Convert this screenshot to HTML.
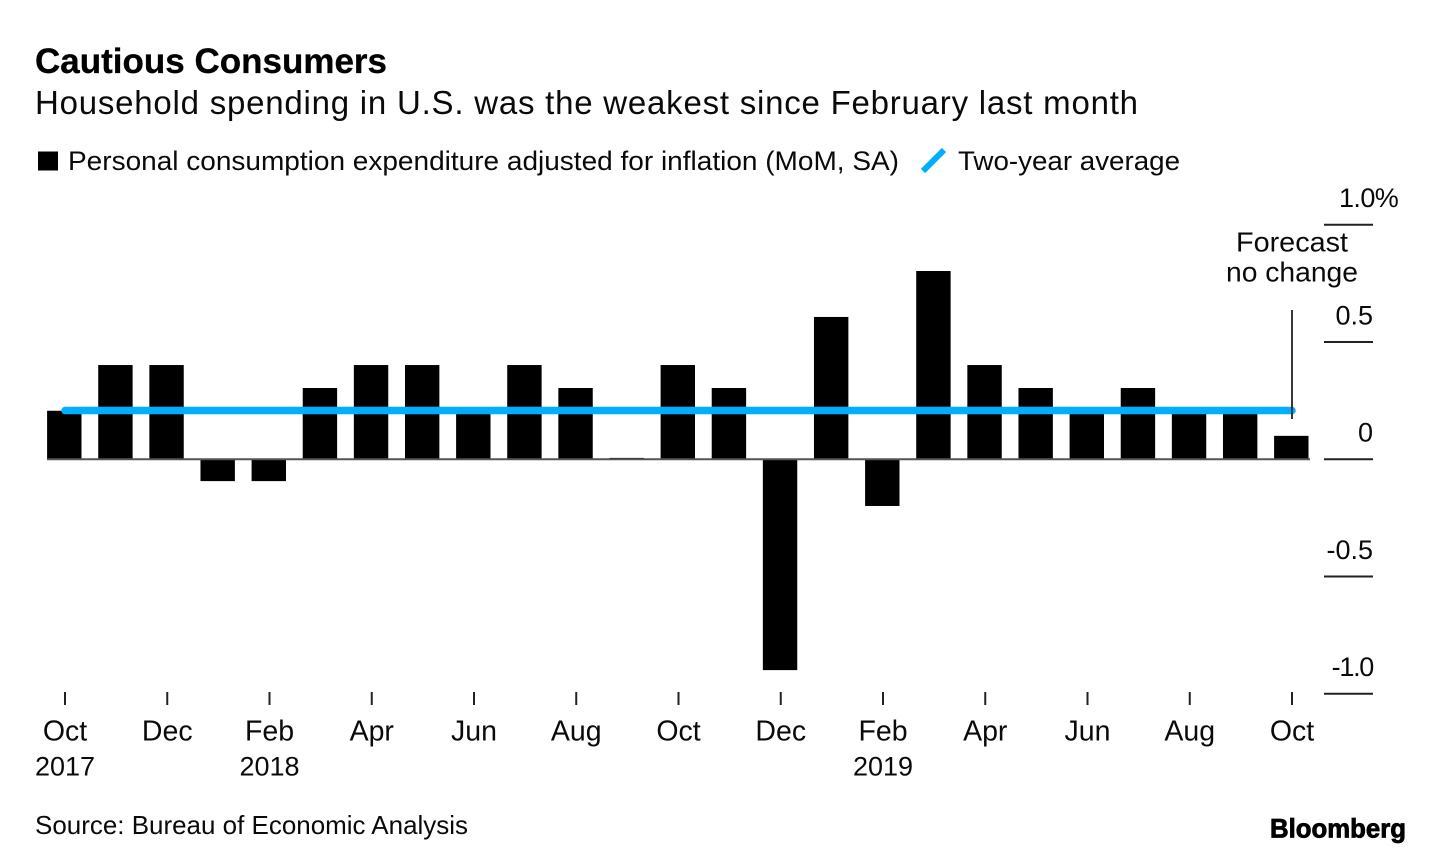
<!DOCTYPE html>
<html lang="en">
<head>
<meta charset="utf-8">
<title>Cautious Consumers</title>
<style>
html,body{margin:0;padding:0;background:#fff;}
body{width:1433px;height:854px;overflow:hidden;}
svg{display:block;}
text{font-family:"Liberation Sans",sans-serif;fill:#0a0a0a;}
</style>
</head>
<body>
<svg id="chart" width="1433" height="854" viewBox="0 0 1433 854" xmlns="http://www.w3.org/2000/svg">
  <rect x="0" y="0" width="1433" height="854" fill="#ffffff"/>
  <text x="35" y="73" font-size="35" font-weight="700" textLength="352" lengthAdjust="spacing" stroke="#000" stroke-width="0.3" style="fill:#000">Cautious Consumers</text>
  <text x="35" y="114" font-size="33" textLength="1103" lengthAdjust="spacing">Household spending in U.S. was the weakest since February last month</text>

  <g>
    <rect x="38" y="151.5" width="20" height="19" fill="#000"/>
    <text x="68" y="170" font-size="27" textLength="831" lengthAdjust="spacingAndGlyphs">Personal consumption expenditure adjusted for inflation (MoM, SA)</text>
    <line x1="923" y1="171" x2="944" y2="150" stroke="#00aeff" stroke-width="6"/>
    <text x="958" y="170" font-size="27" textLength="222" lengthAdjust="spacingAndGlyphs">Two-year average</text>
  </g>

  <g id="y-axis"></g>
  <g id="x-axis"></g>
  <g id="bars"></g>
  <line id="zero-line" stroke="#555" stroke-width="2"/>
  <polyline id="average-line" fill="none" stroke="#00aeff" stroke-width="7.5" stroke-linecap="round"/>
  <line id="forecast-leader" stroke="#222" stroke-width="1.8"/>

  <g>
    <text x="1236" y="251.5" font-size="28" textLength="112" lengthAdjust="spacingAndGlyphs">Forecast</text>
    <text x="1226" y="281.5" font-size="28" textLength="132" lengthAdjust="spacingAndGlyphs">no change</text>
  </g>

  <text x="35" y="834" font-size="26" textLength="433" lengthAdjust="spacingAndGlyphs">Source: Bureau of Economic Analysis</text>
  <text x="1270" y="837.5" font-size="27" font-weight="700" textLength="136" lengthAdjust="spacingAndGlyphs" stroke="#000" stroke-width="0.8" style="fill:#000">Bloomberg</text>
</svg>
<script>
const months = ['Oct 2017','Nov 2017','Dec 2017','Jan 2018','Feb 2018','Mar 2018','Apr 2018','May 2018','Jun 2018','Jul 2018','Aug 2018','Sep 2018','Oct 2018','Nov 2018','Dec 2018','Jan 2019','Feb 2019','Mar 2019','Apr 2019','May 2019','Jun 2019','Jul 2019','Aug 2019','Sep 2019','Oct 2019'];
const consumption = [0.207,0.402,0.402,-0.093,-0.093,0.304,0.402,0.402,0.207,0.402,0.304,0.006,0.402,0.304,-0.899,0.607,-0.199,0.803,0.402,0.304,0.207,0.304,0.207,0.207,0.1];
const twoYearAverage = [0.208,0.208,0.208,0.208,0.208,0.208,0.208,0.208,0.208,0.208,0.208,0.208,0.208,0.208,0.208,0.208,0.208,0.208,0.208,0.208,0.208,0.208,0.208,0.208,0.208];
const xTickMonths = ['Oct','','Dec','','Feb','','Apr','','Jun','','Aug','','Oct','','Dec','','Feb','','Apr','','Jun','','Aug','','Oct'];
const xTickYears = ['2017','','','','2018','','','','','','','','','','','','2019','','','','','','','',''];
const yTicks = [1, 0.5, 0, -0.5, -1];
const yTickLabels = ['1.0%','0.5','0','-0.5','-1.0'];

const NS = 'http://www.w3.org/2000/svg';
function xScale(i){ return 65 + i * (1292 - 65) / (months.length - 1); }
function yScale(v){ return 459.3 - v * 234.5; }
function make(tag, attrs, parent){
  const el = document.createElementNS(NS, tag);
  Object.keys(attrs).forEach(function(k){ el.setAttribute(k, attrs[k]); });
  parent.appendChild(el);
  return el;
}

const barsGroup = document.getElementById('bars');
consumption.forEach(function(v, i){
  const top = Math.min(yScale(v), yScale(0));
  const h = Math.abs(yScale(v) - yScale(0));
  const bar = make('rect', {x: xScale(i) - 17.9, y: top, width: 34.4, height: h, fill: '#000'}, barsGroup);
  
  
});

const zero = document.getElementById('zero-line');
zero.setAttribute('x1', xScale(0) - 18);
zero.setAttribute('x2', xScale(months.length - 1) + 18);
zero.setAttribute('y1', yScale(0));
zero.setAttribute('y2', yScale(0));

const avgLine = document.getElementById('average-line');
avgLine.setAttribute('points', twoYearAverage.map(function(v, i){ return xScale(i) + ',' + yScale(v); }).join(' '));

const lastIndex = months.length - 1;
const leader = document.getElementById('forecast-leader');
leader.setAttribute('x1', xScale(lastIndex));
leader.setAttribute('x2', xScale(lastIndex));
leader.setAttribute('y1', 310);
leader.setAttribute('y2', 419);

const yAxis = document.getElementById('y-axis');
yTicks.forEach(function(v, i){
  const tick = make('line', {x1: 1324, x2: 1373, y1: yScale(v), y2: yScale(v), stroke: '#222', 'stroke-width': 2}, yAxis);
  
  
  const text = yTickLabels[i];
  const isTop = text.indexOf('%') >= 0;
  const label = make('text', {x: isTop ? 1339 : 1373, y: yScale(v) - 17.6, 'font-size': 27, 'text-anchor': isTop ? 'start' : 'end'}, yAxis);
  
  
  if (text.indexOf('1.0') >= 0) label.setAttribute('letter-spacing', isTop ? '-0.6' : '-1.3');
  label.textContent = text;
});

const xAxis = document.getElementById('x-axis');
xTickMonths.forEach(function(m, i){
  if (!m) return;
  const tick = make('line', {x1: xScale(i), x2: xScale(i), y1: 692, y2: 705, stroke: '#222', 'stroke-width': 2}, xAxis);
  
  
  const label = make('text', {x: xScale(i), y: 740.5, 'font-size': 28.5, 'text-anchor': 'middle'}, xAxis);
  
  
  label.textContent = m;
  if (xTickYears[i]) {
    const year = make('text', {x: xScale(i), y: 775.5, 'font-size': 27, 'text-anchor': 'middle'}, xAxis);
    
    
    year.textContent = xTickYears[i];
  }
});
</script>
</body>
</html>
